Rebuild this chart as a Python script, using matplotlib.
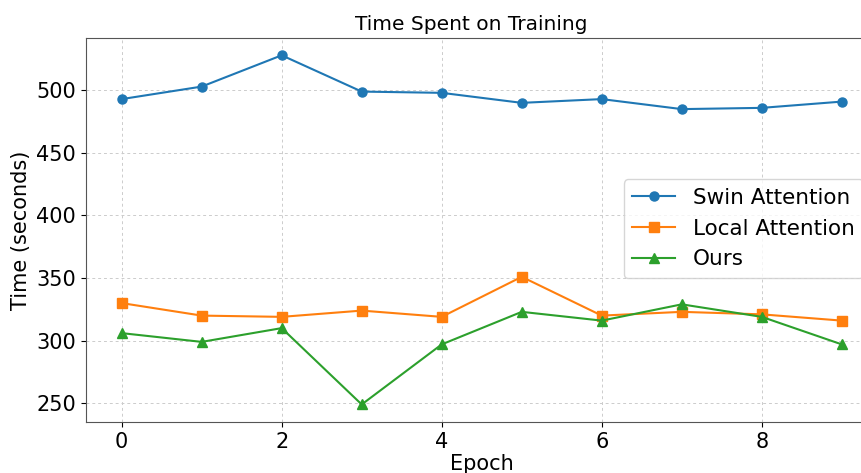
import matplotlib

matplotlib.use("Agg")

import matplotlib.pyplot as plt

epochs = list(range(10))
swin = [493, 503, 528, 499, 498, 490, 493, 485, 486, 491]
local = [330, 320, 319, 324, 319, 351, 320, 323, 321, 316]
ours = [306, 299, 310, 249, 297, 323, 316, 329, 319, 297]

fig = plt.figure(figsize=(8.61, 4.73), dpi=100)
# right edge runs past the figure, like the cropped original
ax = fig.add_axes([0.0995, 0.108, 0.92, 0.812])

ax.plot(epochs, swin, marker="o", color="#1f77b4", markersize=6.5, lw=1.5, label="Swin Attention")
ax.plot(epochs, local, marker="s", color="#ff7f0e", markersize=6.5, lw=1.5, label="Local Attention")
ax.plot(epochs, ours, marker="^", color="#2ca02c", markersize=6.5, lw=1.5, label="Ours")

ax.set_xticks([0, 2, 4, 6, 8])
ax.set_yticks([250, 300, 350, 400, 450, 500])
ax.tick_params(labelsize=15)
ax.grid(True, linestyle=(0, (3, 3)), color="#cccccc", lw=0.7)
for s in ax.spines.values():
    s.set_color("#555555")

ax.set_xlabel("Epoch", fontsize=15, labelpad=2)
ax.set_ylabel("Time (seconds)", fontsize=15)
fig.text(0.547, 0.928, "Time Spent on Training", ha="center", va="bottom", fontsize=14.5)

ax.legend(fontsize=15.5, loc="center right", bbox_to_anchor=(0.995, 0.503))

fig.savefig("out.png", dpi=100)
